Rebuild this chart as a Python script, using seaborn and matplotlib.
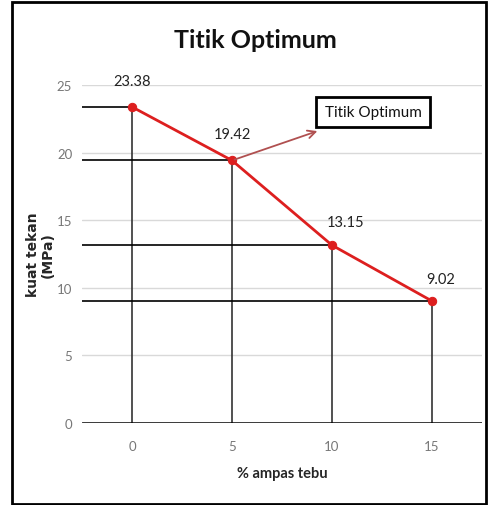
import matplotlib
matplotlib.use("Agg")
import matplotlib.pyplot as plt
import seaborn as sns
import pandas as pd
from matplotlib.patches import Rectangle

ampas = [0, 5, 10, 15]
kuat = [23.38, 19.42, 13.15, 9.02]
labels = ["23.38", "19.42", "13.15", "9.02"]
yticks = [0, 5, 10, 15, 20, 25]
xticks = [0, 5, 10, 15]

df = pd.DataFrame({"ampas": ampas, "kuat": kuat})

sns.set_theme(style="white")
plt.rcParams['font.family'] = ['Lato', 'DejaVu Sans']

fig = plt.figure(figsize=(4.88, 5.06), dpi=100)
ax = fig.add_axes([82/488, 1-424/506, 400/488, 338/506])

# border of the figure
fig.patches.append(Rectangle((12/488, 1/506), 474/488, 502/506, transform=fig.transFigure,
                             fill=False, edgecolor='black', linewidth=2))

ax.set_xlim(-2.5, 17.5)
ax.set_ylim(0, 25)
for y in yticks[1:]:
    ax.axhline(y, color='#d9d9d9', linewidth=1, zorder=0)

# drop lines
for x, y in zip(ampas, kuat):
    ax.plot([-2.5, x], [y, y], color='black', linewidth=1.2, zorder=1)
    ax.plot([x, x], [0, y], color='#333333', linewidth=1.2, zorder=1)
ax.axhline(0, color='black', linewidth=1.8, zorder=2)

sns.lineplot(data=df, x="ampas", y="kuat", ax=ax, color='#dd1f1f', linewidth=2,
             marker='o', markersize=6, markeredgecolor='#dd1f1f', zorder=3)

offsets = [(0, 19), (0, 19), (10, 17), (6, 16)]
for x, y, t, (dx, dy) in zip(ampas, kuat, labels, offsets):
    ax.annotate(t, (x, y), xytext=(dx, dy), textcoords='offset points',
                ha='center', va='center', fontsize=10.5, color='#222222')

ax.set_xticks(xticks)
ax.set_yticks(yticks)
ax.tick_params(axis='y', labelsize=9.5, labelcolor='#777777', length=0, pad=7)
ax.tick_params(axis='x', labelsize=9.5, labelcolor='#777777', length=0, pad=12)
for s in ax.spines.values():
    s.set_visible(False)

ax.set_xlabel("% ampas tebu", fontsize=10.5, fontweight='bold', labelpad=10)
ax.set_ylabel("kuat tekan\n(MPa)", fontsize=10, fontweight='bold', family='DejaVu Sans',
              linespacing=1.1)
ax.yaxis.set_label_coords((55 - 82) / 400, 0.5)

fig.text(255/488, 1-40/506, "Titik Optimum", ha='center', va='center', fontsize=18,
         fontweight='bold', color='#111111')

ax.annotate("Titik Optimum", xy=(5, 19.42), xytext=(373, 506-113), textcoords='figure pixels',
            ha='center', va='center', fontsize=11, color='#111111',
            bbox=dict(boxstyle='square,pad=0.55', fc='white', ec='black', lw=2),
            arrowprops=dict(arrowstyle='<-', color='#b05050', lw=1.3,
                            shrinkA=6, shrinkB=2, mutation_scale=14))

fig.savefig("out.png", dpi=100)
